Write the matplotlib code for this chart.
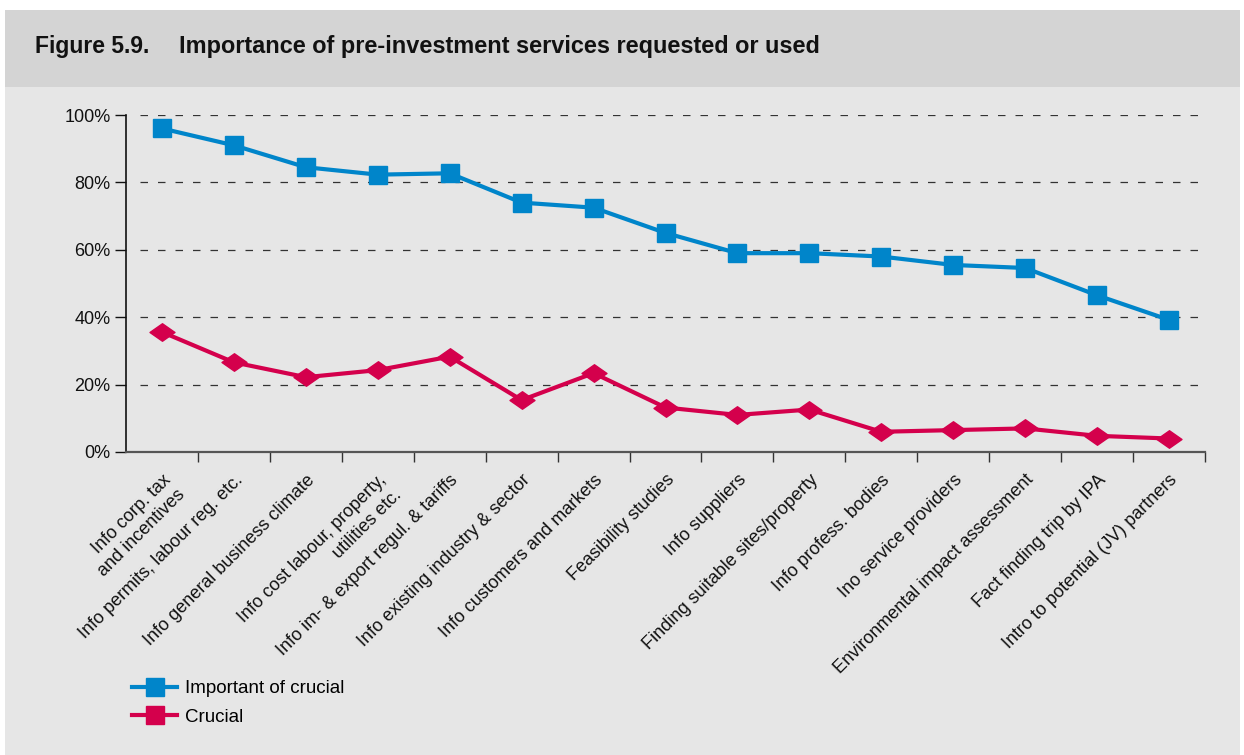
import numpy as np
import matplotlib
matplotlib.use("Agg")
from matplotlib import pyplot as plt
from matplotlib.patches import Rectangle
from matplotlib.lines import Line2D
from matplotlib.path import Path

# services, in the order shown on the x axis
categories = [
    "Info corp. tax\nand incentives",
    "Info permits, labour reg. etc.",
    "Info general business climate",
    "Info cost labour, property,\nutilities etc.",
    "Info im- & export regul. & tariffs",
    "Info existing industry & sector",
    "Info customers and markets",
    "Feasibility studies",
    "Info suppliers",
    "Finding suitable sites/property",
    "Info profess. bodies",
    "Ino service providers",
    "Environmental impact assessment",
    "Fact finding trip by IPA",
    "Intro to potential (JV) partners",
]

# share of respondents (%)
important_or_crucial = [96, 91, 84.5, 82.3, 82.7, 74, 72.5, 65, 59, 59, 58, 55.5, 54.6, 46.5, 39.2]
crucial = [35.6, 26.6, 22.2, 24.3, 28.3, 15.4, 23.4, 13.2, 11, 12.6, 6, 6.5, 7, 4.8, 4]

y_ticks = [0, 20, 40, 60, 80, 100]
y_tick_labels = ["0%", "20%", "40%", "60%", "80%", "100%"]

BLUE = "#0085ca"
RED = "#d4004c"

plt.rcParams["font.family"] = ["Liberation Sans", "DejaVu Sans"]

W, H = 1244, 755
fig = plt.figure(figsize=(W / 100, H / 100), dpi=100, facecolor="white")

# panel backgrounds
fig.patches.append(Rectangle((5 / W, 0), 1235 / W, 1 - 87 / H, transform=fig.transFigure,
                             facecolor="#e6e6e6", edgecolor="none", zorder=-2))
fig.patches.append(Rectangle((5 / W, 1 - 87 / H), 1235 / W, 77 / H, transform=fig.transFigure,
                             facecolor="#d4d4d4", edgecolor="none", zorder=-2))

fig.text(35 / W, 1 - 53.5 / H, "Figure 5.9.", fontsize=16.5, fontweight="bold",
         va="baseline", color="#111111")
fig.text(179 / W, 1 - 53.5 / H, "Importance of pre-investment services requested or used",
         fontsize=16.9, fontweight="bold", va="baseline", color="#111111")

ax = fig.add_axes([126 / W, 1 - 452 / H, (1205 - 126) / W, (452 - 115) / H])
ax.set_facecolor("none")

x = np.arange(len(categories))

# flattened diamond
diamond = Path([(-1, 0), (0, 0.7), (1, 0), (0, -0.7), (-1, 0)],
               [Path.MOVETO, Path.LINETO, Path.LINETO, Path.LINETO, Path.CLOSEPOLY])

ax.plot(x, important_or_crucial, color=BLUE, lw=3, marker="s", ms=13.5, zorder=3)
ax.plot(x, crucial, color=RED, lw=3, marker=diamond, ms=18, zorder=3)

ax.hlines(y_ticks[1:], -0.3, 14.45, colors="#333333", linestyles=(0, (6, 8)), lw=0.9, zorder=1)

ax.set_xlim(-0.5, len(categories) - 0.5)
ax.set_ylim(0, 100)
ax.set_yticks(y_ticks)
ax.set_yticklabels(y_tick_labels)
ax.tick_params(axis="y", direction="out", length=8, width=1, labelsize=13, pad=3,
               colors="#111111")

ax.set_xticks(np.arange(0.5, len(categories), 1))
ax.set_xticklabels([])
ax.tick_params(axis="x", which="major", direction="out", length=7, width=1, color="#333333")
ax.set_xticks(x, minor=True)
ax.set_xticklabels(categories, minor=True, rotation=45, ha="right",
                   rotation_mode="anchor", fontsize=13, color="#111111",
                   linespacing=1.3)
ax.tick_params(axis="x", which="minor", length=0, pad=14)

for side in ["top", "right"]:
    ax.spines[side].set_visible(False)
ax.spines["left"].set_color("#111111")
ax.spines["left"].set_linewidth(1.2)
ax.spines["bottom"].set_color("#555555")
ax.spines["bottom"].set_linewidth(1.6)

handles = [
    Line2D([], [], color=BLUE, lw=3, marker="s", ms=13),
    Line2D([], [], color=RED, lw=3, marker="s", ms=13),
]
fig.legend(handles, ["Important of crucial", "Crucial"], loc="upper left",
           bbox_to_anchor=(132 / W, 1 - 680 / H), frameon=False, fontsize=13.5,
           handlelength=2.4, handletextpad=0.45, labelspacing=0.6,
           borderpad=0, borderaxespad=0)

plt.savefig("out.png", dpi=100, facecolor=fig.get_facecolor())
